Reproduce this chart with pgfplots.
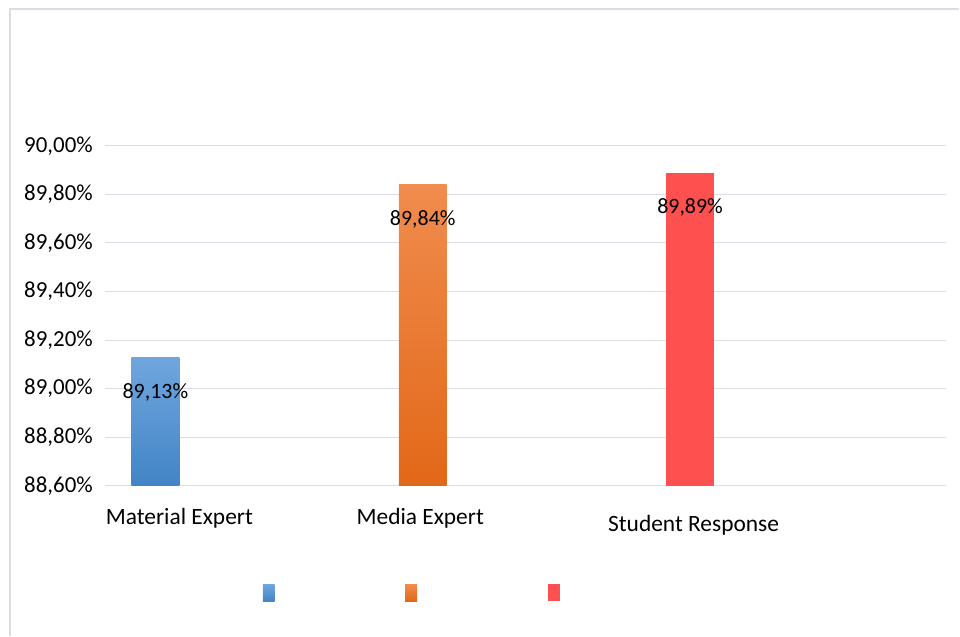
\documentclass[border=0pt]{standalone}
\usepackage{fontspec}
\setmainfont{Carlito}
\usepackage{pgfplots}
\pgfplotsset{compat=1.18}

\definecolor{gridc}{RGB}{217,221,228}
\definecolor{blueTop}{RGB}{112,166,222}
\definecolor{blueBot}{RGB}{66,132,198}
\definecolor{orTop}{RGB}{240,140,78}
\definecolor{orBot}{RGB}{226,104,24}
\definecolor{redc}{RGB}{255,80,80}

\pgfplotsset{
  sq legend/.style={legend image code/.code={\path[##1] (0bp,-8.5bp) rectangle (12bp,8.5bp);}},
}

\begin{document}
\begin{tikzpicture}
\begin{axis}[
  at={(105bp,150bp)}, anchor=south west,
  scale only axis, width=842bp, height=340bp,
  font=\fontsize{23}{27}\selectfont,
  xmin=105, xmax=947,
  ymin=88.6, ymax=90.0,
  y coord trafo/.code={\pgfmathparse{#1-88.6}},
  y coord inv trafo/.code={\pgfmathparse{#1+88.6}},
  ytick={88.6,88.8,89.0,89.2,89.4,89.6,89.8,90.0},
  yticklabels={{88,60\%},{88,80\%},{89,00\%},{89,20\%},{89,40\%},{89,60\%},{89,80\%},{90,00\%}},
  xtick={179.5,420.5,694},
  xticklabels={Material Expert,Media Expert,{\raisebox{-7bp}{Student Response}}},
  xticklabel style={anchor=base, yshift=-39bp, inner sep=0pt, font=\fontsize{23.5}{28}\selectfont},
  yticklabel style={anchor=east, inner sep=0pt, xshift=-12bp},
  major tick length=0pt,
  axis line style={draw=none},
  ymajorgrids, grid style={gridc, line width=1bp},
  ybar, bar width=48bp, bar shift=0pt,
  point meta=explicit symbolic,
  nodes near coords,
  every node near coord/.append style={anchor=center, yshift=-35bp, font=\fontsize{22}{26}\selectfont},
  legend columns=3,
  legend style={draw=none, fill=none, nodes={inner sep=0pt},
    at={(0.3645,-0.3147)}, anchor=center,
    /tikz/every even column/.append style={column sep=129.5bp}},
]
\addplot[draw=none, top color=blueTop, bottom color=blueBot, sq legend]
  coordinates {(155.5,89.13) [{89,13\%}]};
\addlegendentry{}
\addplot[draw=none, top color=orTop, bottom color=orBot, sq legend]
  coordinates {(423,89.84) [{89,84\%}]};
\addlegendentry{}
\addplot[draw=none, fill=redc, sq legend]
  coordinates {(690.5,89.89) [{89,89\%}]};
\addlegendentry{}
\end{axis}
\draw[gridc, line width=1.2bp] (10bp,0bp) -- (10bp,627bp) -- (960bp,627bp);
\useasboundingbox (0bp,0bp) rectangle (960bp,636bp);
\end{tikzpicture}
\end{document}
